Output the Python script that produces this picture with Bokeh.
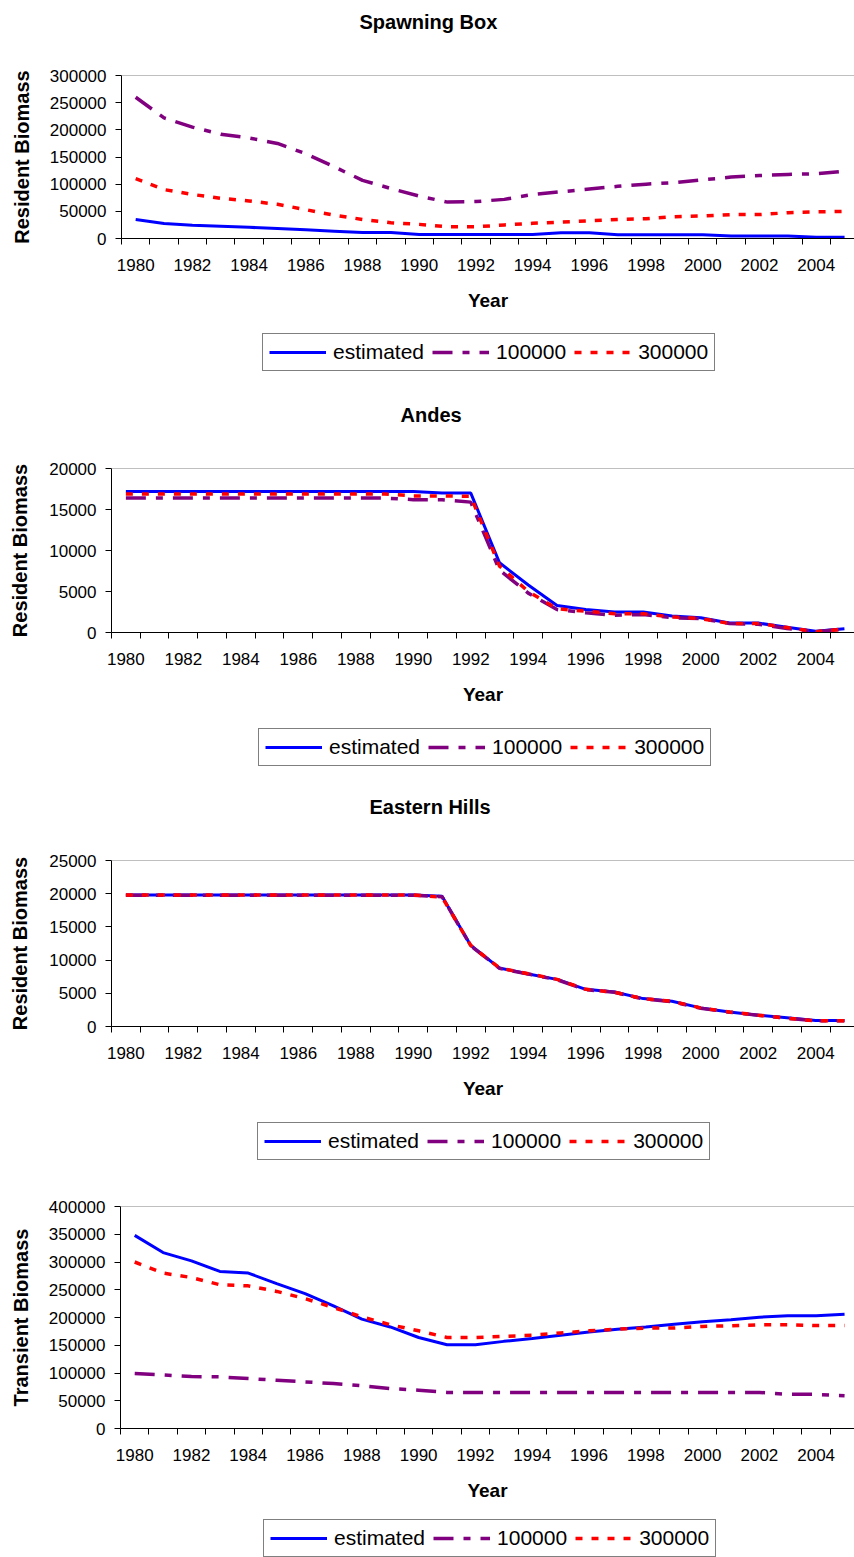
from bokeh.plotting import figure
from bokeh.models import (FixedTicker, Span, Legend, LegendItem, Range1d, NumeralTickFormatter, Title)
from bokeh.embed import file_html
from bokeh.resources import INLINE

years = list(range(1980, 2006))
tick_years = list(range(1980, 2005, 2))
series_labels = ["estimated", "100000", "300000"]

spawn_est = [35000, 27500, 24500, 22500, 20500, 18500, 16000, 13500, 11000, 11000, 7500, 7500, 7500,
             7500, 7500, 10500, 10500, 7000, 7000, 7000, 7000, 4500, 4500, 4500, 2500, 2500]
spawn_100 = [260000, 222000, 205000, 192000, 185000, 175000, 156000, 132000, 107000, 92000, 78000, 67000,
             68000, 72000, 81000, 86000, 91000, 96000, 100000, 103000, 108000, 113000, 116000, 118000,
             119000, 124000]
spawn_300 = [110000, 90000, 81000, 74000, 69000, 63000, 53000, 43000, 35000, 29000, 26000, 21500, 21500,
             25000, 28000, 30000, 32500, 35000, 36500, 40000, 41500, 44000, 44000, 47500, 49000, 50000]

andes_est = [17200] * 11 + [17000, 17000, 8500, 5800, 3300, 2800, 2500, 2500, 2000, 1800, 1150, 1150,
                            650, 150, 450]
andes_100 = [16400] * 10 + [16200, 16200, 15900, 7600, 4800, 2800, 2400, 2100, 2200, 1800, 1700, 1100,
                            1000, 500, 100, 450]
andes_300 = [16900] * 10 + [16650, 16650, 16600, 8100, 5000, 2900, 2600, 2300, 2300, 1900, 1700, 1100,
                            1100, 600, 100, 400]

east_est = [19800] * 11 + [19600, 12200, 8800, 7900, 7100, 5600, 5200, 4200, 3800, 2800, 2200, 1700,
                           1300, 900, 900]
east_100 = [19750] * 11 + [19550, 12150, 8750, 7900, 7050, 5550, 5150, 4150, 3750, 2750, 2150, 1700,
                           1250, 850, 850]
east_300 = [19800] * 11 + [19500, 12200, 8800, 7950, 7100, 5600, 5150, 4200, 3800, 2800, 2200, 1700,
                           1250, 850, 850]

trans_est = [348000, 317000, 302000, 283000, 280000, 261000, 243000, 221000, 197000, 183000, 164000,
             151000, 151000, 157000, 162000, 168000, 174000, 179000, 183000, 188000, 192500, 196000,
             200500, 203000, 203000, 206000]
trans_100 = [99000, 96500, 93500, 93000, 90000, 87000, 84000, 81000, 77000, 72000, 69000, 65000, 65000,
             65000, 65000, 65000, 65000, 65000, 65000, 65000, 65000, 65000, 65000, 61500, 61500, 59000]
trans_300 = [300000, 280000, 272000, 259000, 257000, 247000, 234000, 218000, 201000, 187000, 176000,
             164000, 164000, 166000, 168000, 172000, 176000, 179000, 181000, 181000, 184000, 185000,
             187000, 187000, 185500, 185500]

FONT = "Liberation Sans"
BLUE = "#0000FF"
PURPLE = "#800080"
RED = "#FF0000"
STYLES = [dict(line_color=BLUE, line_width=3),
          dict(line_color=PURPLE, line_width=3.5, line_dash="20 10 7 10"),
          dict(line_color=RED, line_width=3.5, line_dash="7 9")]


def make_chart(title, ylabel, ymax, ystep, est, s100, s300, frame_left, top, fh, bottom,
               title_off, ylab_standoff):
    p = figure(frame_width=854 - frame_left, frame_height=fh, title=None,
               x_range=Range1d(1979.5, 2005.35), y_range=Range1d(0, ymax),
               output_backend="svg", toolbar_location=None,
               min_border_left=frame_left, min_border_right=0,
               min_border_top=top, min_border_bottom=bottom)
    p.outline_line_color = None
    p.xgrid.visible = False
    p.ygrid.visible = False
    p.background_fill_color = "white"
    p.border_fill_color = "white"

    if title:
        spacer = Title(text=" ", text_font=FONT, text_font_size="20px", standoff=19)
        p.add_layout(spacer, "above")
        t = Title(text=title, align="left", offset=title_off, text_font=FONT,
                  text_font_size="20px", text_font_style="bold", text_color="black",
                  standoff=0, vertical_align="bottom")
        p.add_layout(t, "above")

    p.add_layout(Span(location=ymax, dimension="width", line_color="#808080", line_width=1))

    for vals, st in zip([est, s100, s300], STYLES):
        p.line(years, vals, **st)

    xa = p.xaxis[0]
    xa.ticker = FixedTicker(ticks=tick_years, minor_ticks=[y - 0.5 for y in years] + [2005.5])
    xa.major_tick_line_color = None
    xa.major_tick_out = 6
    xa.major_tick_in = 0
    xa.minor_tick_out = 6
    xa.minor_tick_in = 0
    xa.minor_tick_line_color = "black"
    xa.axis_line_color = "black"
    xa.major_label_standoff = 14
    xa.major_label_text_font = FONT
    xa.major_label_text_font_size = "17px"
    xa.major_label_text_color = "black"
    xa.axis_label = "Year"
    xa.axis_label_text_font = FONT
    xa.axis_label_text_font_size = "19px"
    xa.axis_label_text_font_style = "bold"
    xa.axis_label_text_color = "black"
    xa.axis_label_standoff = 16

    ya = p.yaxis[0]
    ya.ticker = FixedTicker(ticks=list(range(0, ymax + 1, ystep)))
    ya.formatter = NumeralTickFormatter(format="0")
    ya.major_tick_out = 6
    ya.major_tick_in = 0
    ya.minor_tick_line_color = None
    ya.major_tick_line_color = "black"
    ya.axis_line_color = "black"
    ya.major_label_standoff = 9
    ya.major_label_text_font = FONT
    ya.major_label_text_font_size = "17px"
    ya.major_label_text_color = "black"
    ya.axis_label = ylabel
    ya.axis_label_text_font = FONT
    ya.axis_label_text_font_size = "20px"
    ya.axis_label_text_font_style = "bold"
    ya.axis_label_text_color = "black"
    ya.axis_label_standoff = ylab_standoff
    return p


def make_legend(h, lx, ly):
    p = figure(width=854, height=h, x_range=Range1d(0, 1), y_range=Range1d(0, 1),
               output_backend="svg", toolbar_location=None, min_border=0,
               min_border_left=0, min_border_right=0, min_border_top=0, min_border_bottom=0)
    p.axis.visible = False
    p.xgrid.visible = False
    p.ygrid.visible = False
    p.outline_line_color = None
    p.background_fill_color = "white"
    p.border_fill_color = "white"
    # legend-only renderers: their data lie outside the visible range
    rs = [p.line([-5, -4], [-5, -5], **st) for st in STYLES]
    legend = Legend(items=[LegendItem(label=lab, renderers=[r]) for lab, r in zip(series_labels, rs)],
                    orientation="horizontal", location=(lx, ly),
                    border_line_color="black", border_line_width=1,
                    background_fill_color="white", background_fill_alpha=1,
                    padding=6, spacing=8, label_standoff=7, glyph_width=57, glyph_height=20,
                    label_text_font=FONT, label_text_font_size="21px", label_text_color="black",
                    margin=0)
    p.add_layout(legend, "center")
    return p


c1 = make_chart("Spawning Box", "Resident Biomass", 300000, 50000, spawn_est, spawn_100, spawn_300,
                121, 75, 163, 78, 238, 14)
l1 = make_legend(85, 262, 30)
c2 = make_chart("Andes", "Resident Biomass", 20000, 5000, andes_est, andes_100, andes_300,
                111, 67, 164, 78, 289, 15)
l2 = make_legend(83, 258, 27)
c3 = make_chart("Eastern Hills", "Resident Biomass", 25000, 5000, east_est, east_100, east_300,
                111, 67, 166, 78, 258, 15)
l3 = make_legend(81, 257, 25)
c4 = make_chart(None, "Transient Biomass", 400000, 50000, trans_est, trans_100, trans_300,
                120, 21, 222, 78, 0, 14)
l4 = make_legend(51, 263, 0)

open("out.html", "w").write(file_html([c1, l1, c2, l2, c3, l3, c4, l4], INLINE))
